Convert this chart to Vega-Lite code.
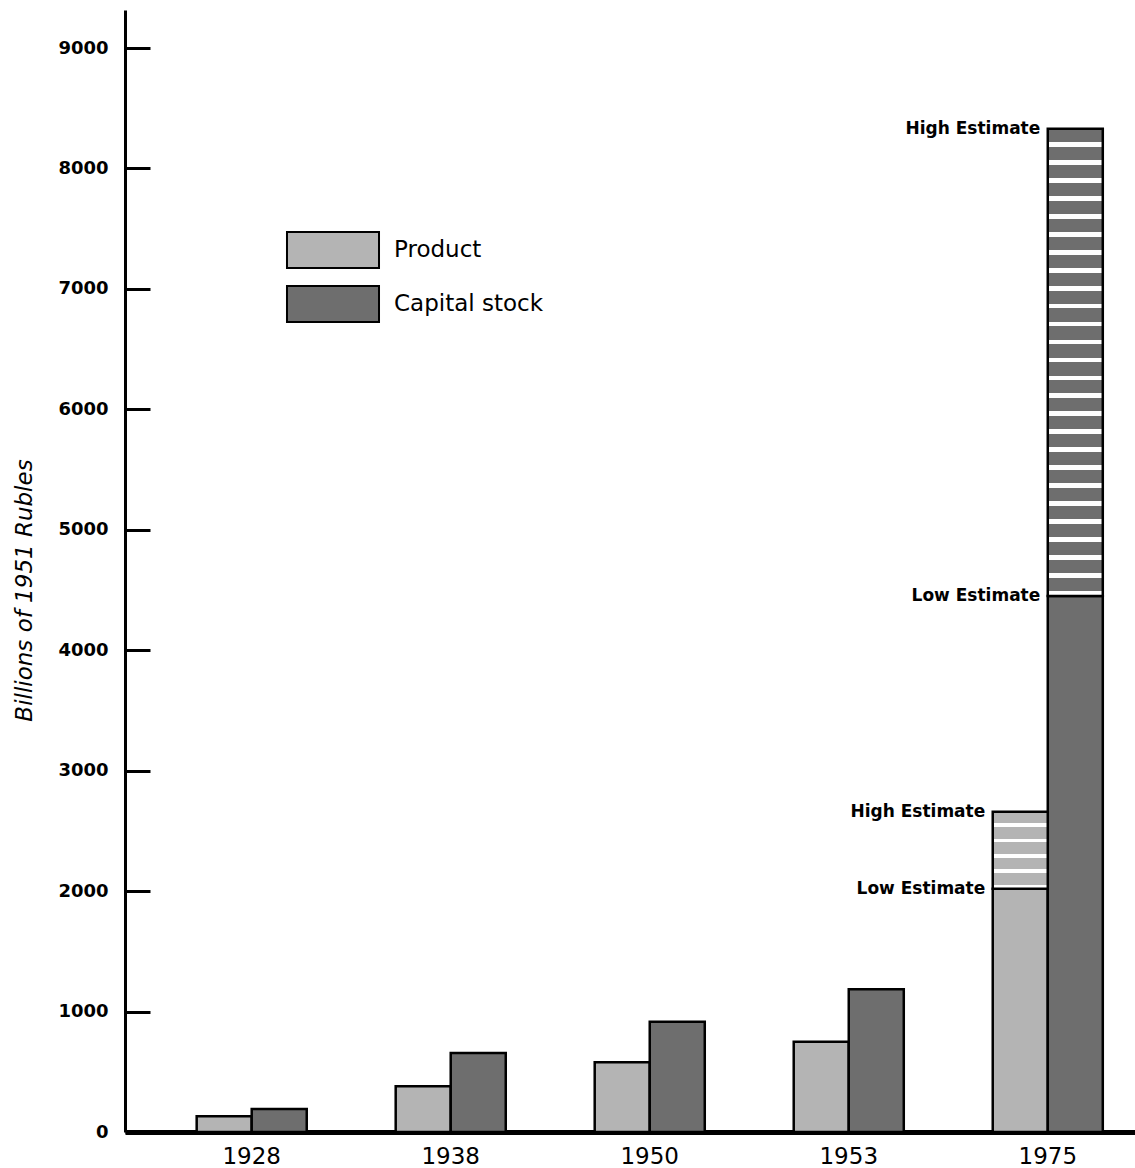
{
  "$schema": "https://vega.github.io/schema/vega-lite/v6.json",
  "width": 1010,
  "height": 1122,
  "autosize": {"type": "none"},
  "padding": {"left": 125, "top": 10, "right": 0, "bottom": 36},
  "background": "white",
  "config": {"view": {"stroke": null}},
  "datasets": {
    "bars": [
      {"year": "1928", "series": "Product", "value": 130},
      {"year": "1928", "series": "Capital stock", "value": 190},
      {"year": "1938", "series": "Product", "value": 380},
      {"year": "1938", "series": "Capital stock", "value": 655},
      {"year": "1950", "series": "Product", "value": 580},
      {"year": "1950", "series": "Capital stock", "value": 915},
      {"year": "1953", "series": "Product", "value": 750},
      {"year": "1953", "series": "Capital stock", "value": 1185},
      {"year": "1975", "series": "Product", "value": 2020},
      {"year": "1975", "series": "Capital stock", "value": 4450}
    ],
    "ranges": [
      {"year": "1975", "series": "Product", "low": 2020, "high": 2660},
      {"year": "1975", "series": "Capital stock", "low": 4450, "high": 8330}
    ],
    "labels": [
      {"year": "1975", "series": "Product", "label": "High Estimate", "value": 2660},
      {"year": "1975", "series": "Product", "label": "Low Estimate", "value": 2020},
      {"year": "1975", "series": "Capital stock", "label": "High Estimate", "value": 8330},
      {"year": "1975", "series": "Capital stock", "label": "Low Estimate", "value": 4450}
    ]
  },
  "encoding": {
    "x": {
      "field": "year", "type": "nominal", "title": null,
      "scale": {"paddingInner": 0.447, "paddingOuter": 0.261, "align": 0.69},
      "axis": {"ticks": false, "domainWidth": 5, "domainColor": "black", "labelAngle": 0, "labelFont": "DejaVu Sans", "labelFontSize": 23, "labelColor": "black", "labelPadding": 13}
    },
    "xOffset": {"field": "series", "type": "nominal", "scale": {"domain": ["Product", "Capital stock"], "paddingInner": 0, "paddingOuter": 0}}
  },
  "layer": [
    {
      "data": {"name": "bars"},
      "mark": {"type": "bar", "stroke": "black", "strokeWidth": 2.5},
      "encoding": {
        "y": {
          "field": "value", "type": "quantitative",
          "scale": {"domain": [0, 9316], "nice": false},
          "axis": {
            "title": "Billions of 1951 Rubles",
            "values": [0, 1000, 2000, 3000, 4000, 5000, 6000, 7000, 8000, 9000],
            "format": "d", "grid": false,
            "tickSize": -25, "tickWidth": 3, "tickColor": "black",
            "domainColor": "black", "domainWidth": 3,
            "labelFont": "DejaVu Sans", "labelFontWeight": "bold", "labelFontSize": 18, "labelColor": "black", "labelPadding": 42,
            "titleFont": "DejaVu Sans", "titleFontStyle": "italic", "titleFontWeight": "normal", "titleFontSize": 23, "titleColor": "black", "titlePadding": 21, "titleY": 580
          }
        },
        "color": {
          "field": "series", "type": "nominal",
          "scale": {"domain": ["Product", "Capital stock"], "range": ["#b4b4b4", "#6e6e6e"]},
          "legend": {
            "title": null, "orient": "none", "legendX": 189, "legendY": 221,
            "symbolType": "M-2.556,-1H2.556V1H-2.556Z", "symbolSize": 1296,
            "symbolStrokeColor": "black", "symbolStrokeWidth": 2, "symbolOpacity": 1,
            "labelOffset": 42, "labelFont": "DejaVu Sans", "labelFontSize": 23, "labelColor": "black",
            "rowPadding": 10, "padding": 0
          }
        }
      }
    },
    {
      "data": {"name": "ranges"},
      "mark": {"type": "bar", "stroke": "black", "strokeWidth": 2.5},
      "encoding": {
        "y": {"field": "low", "type": "quantitative"},
        "y2": {"field": "high"},
        "fill": {
          "condition": {
            "test": "datum.series === 'Product'",
            "value": {
              "gradient": "linear", "x1": 0, "y1": 0, "x2": 0, "y2": 1,
              "stops": [
                {"offset": 0, "color": "#b4b4b4"}, {"offset": 0.15, "color": "#b4b4b4"}, {"offset": 0.15, "color": "#ffffff"}, {"offset": 0.2, "color": "#ffffff"},
                {"offset": 0.2, "color": "#b4b4b4"}, {"offset": 0.35, "color": "#b4b4b4"}, {"offset": 0.35, "color": "#ffffff"}, {"offset": 0.4, "color": "#ffffff"},
                {"offset": 0.4, "color": "#b4b4b4"}, {"offset": 0.55, "color": "#b4b4b4"}, {"offset": 0.55, "color": "#ffffff"}, {"offset": 0.6, "color": "#ffffff"},
                {"offset": 0.6, "color": "#b4b4b4"}, {"offset": 0.75, "color": "#b4b4b4"}, {"offset": 0.75, "color": "#ffffff"}, {"offset": 0.8, "color": "#ffffff"},
                {"offset": 0.8, "color": "#b4b4b4"}, {"offset": 0.95, "color": "#b4b4b4"}, {"offset": 0.95, "color": "#ffffff"}, {"offset": 1, "color": "#ffffff"}
              ]
            }
          },
          "value": {
            "gradient": "linear", "x1": 0, "y1": 0, "x2": 0, "y2": 1,
            "stops": [
              {"offset": 0, "color": "#6e6e6e"}, {"offset": 0.02808, "color": "#6e6e6e"}, {"offset": 0.02808, "color": "#ffffff"}, {"offset": 0.03846, "color": "#ffffff"},
              {"offset": 0.03846, "color": "#6e6e6e"}, {"offset": 0.06654, "color": "#6e6e6e"}, {"offset": 0.06654, "color": "#ffffff"}, {"offset": 0.07692, "color": "#ffffff"},
              {"offset": 0.07692, "color": "#6e6e6e"}, {"offset": 0.105, "color": "#6e6e6e"}, {"offset": 0.105, "color": "#ffffff"}, {"offset": 0.11538, "color": "#ffffff"},
              {"offset": 0.11538, "color": "#6e6e6e"}, {"offset": 0.14346, "color": "#6e6e6e"}, {"offset": 0.14346, "color": "#ffffff"}, {"offset": 0.15385, "color": "#ffffff"},
              {"offset": 0.15385, "color": "#6e6e6e"}, {"offset": 0.18192, "color": "#6e6e6e"}, {"offset": 0.18192, "color": "#ffffff"}, {"offset": 0.19231, "color": "#ffffff"},
              {"offset": 0.19231, "color": "#6e6e6e"}, {"offset": 0.22038, "color": "#6e6e6e"}, {"offset": 0.22038, "color": "#ffffff"}, {"offset": 0.23077, "color": "#ffffff"},
              {"offset": 0.23077, "color": "#6e6e6e"}, {"offset": 0.25885, "color": "#6e6e6e"}, {"offset": 0.25885, "color": "#ffffff"}, {"offset": 0.26923, "color": "#ffffff"},
              {"offset": 0.26923, "color": "#6e6e6e"}, {"offset": 0.29731, "color": "#6e6e6e"}, {"offset": 0.29731, "color": "#ffffff"}, {"offset": 0.30769, "color": "#ffffff"},
              {"offset": 0.30769, "color": "#6e6e6e"}, {"offset": 0.33577, "color": "#6e6e6e"}, {"offset": 0.33577, "color": "#ffffff"}, {"offset": 0.34615, "color": "#ffffff"},
              {"offset": 0.34615, "color": "#6e6e6e"}, {"offset": 0.37423, "color": "#6e6e6e"}, {"offset": 0.37423, "color": "#ffffff"}, {"offset": 0.38462, "color": "#ffffff"},
              {"offset": 0.38462, "color": "#6e6e6e"}, {"offset": 0.41269, "color": "#6e6e6e"}, {"offset": 0.41269, "color": "#ffffff"}, {"offset": 0.42308, "color": "#ffffff"},
              {"offset": 0.42308, "color": "#6e6e6e"}, {"offset": 0.45115, "color": "#6e6e6e"}, {"offset": 0.45115, "color": "#ffffff"}, {"offset": 0.46154, "color": "#ffffff"},
              {"offset": 0.46154, "color": "#6e6e6e"}, {"offset": 0.48962, "color": "#6e6e6e"}, {"offset": 0.48962, "color": "#ffffff"}, {"offset": 0.5, "color": "#ffffff"},
              {"offset": 0.5, "color": "#6e6e6e"}, {"offset": 0.52808, "color": "#6e6e6e"}, {"offset": 0.52808, "color": "#ffffff"}, {"offset": 0.53846, "color": "#ffffff"},
              {"offset": 0.53846, "color": "#6e6e6e"}, {"offset": 0.56654, "color": "#6e6e6e"}, {"offset": 0.56654, "color": "#ffffff"}, {"offset": 0.57692, "color": "#ffffff"},
              {"offset": 0.57692, "color": "#6e6e6e"}, {"offset": 0.605, "color": "#6e6e6e"}, {"offset": 0.605, "color": "#ffffff"}, {"offset": 0.61538, "color": "#ffffff"},
              {"offset": 0.61538, "color": "#6e6e6e"}, {"offset": 0.64346, "color": "#6e6e6e"}, {"offset": 0.64346, "color": "#ffffff"}, {"offset": 0.65385, "color": "#ffffff"},
              {"offset": 0.65385, "color": "#6e6e6e"}, {"offset": 0.68192, "color": "#6e6e6e"}, {"offset": 0.68192, "color": "#ffffff"}, {"offset": 0.69231, "color": "#ffffff"},
              {"offset": 0.69231, "color": "#6e6e6e"}, {"offset": 0.72038, "color": "#6e6e6e"}, {"offset": 0.72038, "color": "#ffffff"}, {"offset": 0.73077, "color": "#ffffff"},
              {"offset": 0.73077, "color": "#6e6e6e"}, {"offset": 0.75885, "color": "#6e6e6e"}, {"offset": 0.75885, "color": "#ffffff"}, {"offset": 0.76923, "color": "#ffffff"},
              {"offset": 0.76923, "color": "#6e6e6e"}, {"offset": 0.79731, "color": "#6e6e6e"}, {"offset": 0.79731, "color": "#ffffff"}, {"offset": 0.80769, "color": "#ffffff"},
              {"offset": 0.80769, "color": "#6e6e6e"}, {"offset": 0.83577, "color": "#6e6e6e"}, {"offset": 0.83577, "color": "#ffffff"}, {"offset": 0.84615, "color": "#ffffff"},
              {"offset": 0.84615, "color": "#6e6e6e"}, {"offset": 0.87423, "color": "#6e6e6e"}, {"offset": 0.87423, "color": "#ffffff"}, {"offset": 0.88462, "color": "#ffffff"},
              {"offset": 0.88462, "color": "#6e6e6e"}, {"offset": 0.91269, "color": "#6e6e6e"}, {"offset": 0.91269, "color": "#ffffff"}, {"offset": 0.92308, "color": "#ffffff"},
              {"offset": 0.92308, "color": "#6e6e6e"}, {"offset": 0.95115, "color": "#6e6e6e"}, {"offset": 0.95115, "color": "#ffffff"}, {"offset": 0.96154, "color": "#ffffff"},
              {"offset": 0.96154, "color": "#6e6e6e"}, {"offset": 0.98962, "color": "#6e6e6e"}, {"offset": 0.98962, "color": "#ffffff"}, {"offset": 1, "color": "#ffffff"}
            ]
          }
        }
      }
    },
    {
      "data": {"name": "labels"},
      "mark": {"type": "text", "align": "right", "baseline": "middle", "dx": -35, "font": "DejaVu Sans", "fontWeight": "bold", "fontSize": 17, "color": "black"},
      "encoding": {
        "y": {"field": "value", "type": "quantitative"},
        "text": {"field": "label", "type": "nominal"}
      }
    }
  ]
}
